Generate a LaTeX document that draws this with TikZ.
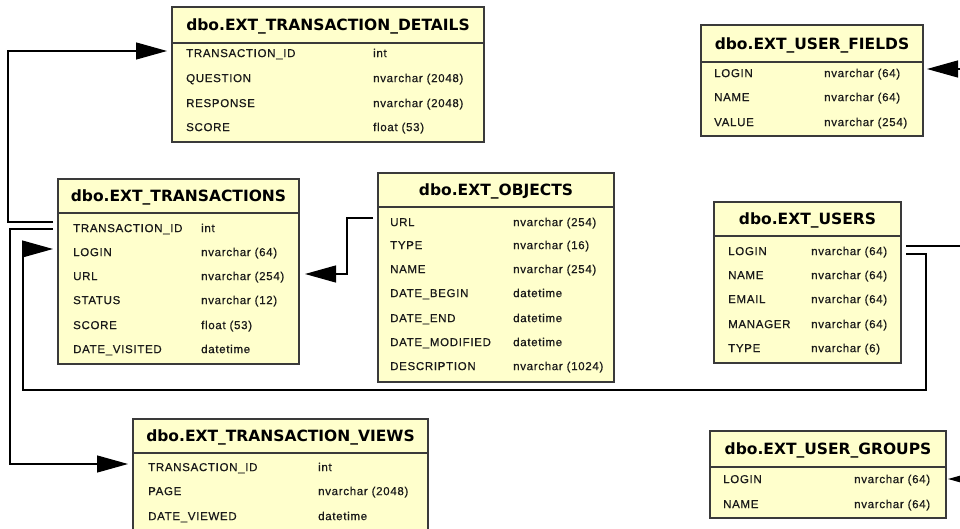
\documentclass[tikz,border=0pt]{standalone}
\usepackage{fontspec}
\setmainfont{Liberation Sans}
\newfontfamily\hdrfont{DejaVu Sans}
\newfontfamily\rowfont{Liberation Sans}[LetterSpace=6,FakeBold=0.6]
\usetikzlibrary{arrows.meta}
\definecolor{tblfill}{HTML}{FFFFCC}
\definecolor{tblline}{HTML}{3A3A3A}
\definecolor{rowtext}{HTML}{1A1A1A}
\tikzset{
  tblbox/.style={draw=tblline, fill=tblfill, line width=1.6pt, anchor=north west,
    inner sep=0pt, outer sep=0pt},
  sepline/.style={draw=tblline, line width=1.1pt},
  hdr/.style={font=\hdrfont\bfseries\fontsize{15.5}{17}\selectfont, text=black,
    inner sep=0pt, anchor=base, yshift=-5.6pt},
  colname/.style={font=\rowfont\fontsize{11.5}{13}\selectfont, text=rowtext,
    anchor=base west, inner sep=0pt, yshift=-4.1pt},
  coltype/.style={colname},
  conn/.style={draw=black, line width=1.2pt},
  fk/.style={conn, -{Triangle[length=31pt,width=17pt]}},
}
\begin{document}
\begin{tikzpicture}[x=1pt,y=-1pt]
\useasboundingbox (0,0) rectangle (960,529);
\clip (0,0) rectangle (960,529);

% ---------- dbo.EXT_TRANSACTION_DETAILS
\node[tblbox, minimum width=312pt, minimum height=135pt] (det) at (172,7) {};
\draw[sepline] (172,43) -- (484,43);
\node[hdr] (det-h) at (328,25) {dbo.EXT\_TRANSACTION\_DETAILS};
\node[colname] (det-n1) at (186,53) {TRANSACTION\_ID};
\node[coltype] (det-t1) at (373,53) {int};
\node[colname] (det-n2) at (186,78) {QUESTION};
\node[coltype] (det-t2) at (373,78) {nvarchar (2048)};
\node[colname] (det-n3) at (186,103) {RESPONSE};
\node[coltype] (det-t3) at (373,103) {nvarchar (2048)};
\node[colname] (det-n4) at (186,127) {SCORE};
\node[coltype] (det-t4) at (373,127) {float (53)};

% ---------- dbo.EXT_USER_FIELDS
\node[tblbox, minimum width=222pt, minimum height=111pt] (uf) at (701,25) {};
\draw[sepline] (701,62) -- (923,62);
\node[hdr] (uf-h) at (812,44) {dbo.EXT\_USER\_FIELDS};
\node[colname] (uf-n1) at (714,73) {LOGIN};
\node[coltype] (uf-t1) at (824,73) {nvarchar (64)};
\node[colname] (uf-n2) at (714,97) {NAME};
\node[coltype] (uf-t2) at (824,97) {nvarchar (64)};
\node[colname] (uf-n3) at (714,122) {VALUE};
\node[coltype] (uf-t3) at (824,122) {nvarchar (254)};

% ---------- dbo.EXT_TRANSACTIONS
\node[tblbox, minimum width=241pt, minimum height=185pt] (tr) at (58,179) {};
\draw[sepline] (58,213) -- (299,213);
\node[hdr] (tr-h) at (178.5,196) {dbo.EXT\_TRANSACTIONS};
\node[colname] (tr-n1) at (73,228) {TRANSACTION\_ID};
\node[coltype] (tr-t1) at (201,228) {int};
\node[colname] (tr-n2) at (73,252) {LOGIN};
\node[coltype] (tr-t2) at (201,252) {nvarchar (64)};
\node[colname] (tr-n3) at (73,276) {URL};
\node[coltype] (tr-t3) at (201,276) {nvarchar (254)};
\node[colname] (tr-n4) at (73,300) {STATUS};
\node[coltype] (tr-t4) at (201,300) {nvarchar (12)};
\node[colname] (tr-n5) at (73,325) {SCORE};
\node[coltype] (tr-t5) at (201,325) {float (53)};
\node[colname] (tr-n6) at (73,349) {DATE\_VISITED};
\node[coltype] (tr-t6) at (201,349) {datetime};

% ---------- dbo.EXT_OBJECTS
\node[tblbox, minimum width=236pt, minimum height=209pt] (obj) at (378,173) {};
\draw[sepline] (378,207) -- (614,207);
\node[hdr] (obj-h) at (496,190) {dbo.EXT\_OBJECTS};
\node[colname] (obj-n1) at (390,222) {URL};
\node[coltype] (obj-t1) at (513,222) {nvarchar (254)};
\node[colname] (obj-n2) at (390,245) {TYPE};
\node[coltype] (obj-t2) at (513,245) {nvarchar (16)};
\node[colname] (obj-n3) at (390,269) {NAME};
\node[coltype] (obj-t3) at (513,269) {nvarchar (254)};
\node[colname] (obj-n4) at (390,293) {DATE\_BEGIN};
\node[coltype] (obj-t4) at (513,293) {datetime};
\node[colname] (obj-n5) at (390,318) {DATE\_END};
\node[coltype] (obj-t5) at (513,318) {datetime};
\node[colname] (obj-n6) at (390,342) {DATE\_MODIFIED};
\node[coltype] (obj-t6) at (513,342) {datetime};
\node[colname] (obj-n7) at (390,366) {DESCRIPTION};
\node[coltype] (obj-t7) at (513,366) {nvarchar (1024)};

% ---------- dbo.EXT_USERS
\node[tblbox, minimum width=187pt, minimum height=161pt] (us) at (714,202) {};
\draw[sepline] (714,236) -- (901,236);
\node[hdr] (us-h) at (807.5,219) {dbo.EXT\_USERS};
\node[colname] (us-n1) at (728,251) {LOGIN};
\node[coltype] (us-t1) at (811,251) {nvarchar (64)};
\node[colname] (us-n2) at (728,275) {NAME};
\node[coltype] (us-t2) at (811,275) {nvarchar (64)};
\node[colname] (us-n3) at (728,299) {EMAIL};
\node[coltype] (us-t3) at (811,299) {nvarchar (64)};
\node[colname] (us-n4) at (728,324) {MANAGER};
\node[coltype] (us-t4) at (811,324) {nvarchar (64)};
\node[colname] (us-n5) at (728,348) {TYPE};
\node[coltype] (us-t5) at (811,348) {nvarchar (6)};

% ---------- dbo.EXT_TRANSACTION_VIEWS
\node[tblbox, minimum width=295pt, minimum height=140pt] (tv) at (133,419) {};
\draw[sepline] (133,453) -- (428,453);
\node[hdr] (tv-h) at (280.5,436) {dbo.EXT\_TRANSACTION\_VIEWS};
\node[colname] (tv-n1) at (148,467) {TRANSACTION\_ID};
\node[coltype] (tv-t1) at (318,467) {int};
\node[colname] (tv-n2) at (148,491) {PAGE};
\node[coltype] (tv-t2) at (318,491) {nvarchar (2048)};
\node[colname] (tv-n3) at (148,516) {DATE\_VIEWED};
\node[coltype] (tv-t3) at (318,516) {datetime};

% ---------- dbo.EXT_USER_GROUPS
\node[tblbox, minimum width=236pt, minimum height=87pt] (ug) at (710,431) {};
\draw[sepline] (710,467) -- (946,467);
\node[hdr] (ug-h) at (828,449) {dbo.EXT\_USER\_GROUPS};
\node[colname] (ug-n1) at (723,479) {LOGIN};
\node[coltype] (ug-t1) at (854,479) {nvarchar (64)};
\node[colname] (ug-n2) at (723,504) {NAME};
\node[coltype] (ug-t2) at (854,504) {nvarchar (64)};

% ---------- connector end points
\coordinate (trid-a) at (53,222);
\coordinate (trid-b) at (53,229);
\coordinate (det-in) at (167,51);
\coordinate (tv-in) at (128,464);
\coordinate (obj-out) at (373,218);
\coordinate (tr-url-in) at (305,274);
\coordinate (us-out-a) at (906,246);
\coordinate (us-out-b) at (906,254);
\coordinate (tr-login-in) at (53,249);
\coordinate (edge-a) at (962,246);
\coordinate (edge-uf) at (962,69);
\coordinate (uf-in) at (927,69);
\coordinate (edge-ug) at (985,479);
\coordinate (ug-in) at (948,479);

% ---------- connectors
\draw[fk] (trid-a) -- (8,222) -- (8,51) -- (det-in);
\draw[fk] (trid-b) -- (10,229) -- (10,464) -- (tv-in);
\draw[fk] (obj-out) -- (347,218) -- (347,274) -- (tr-url-in);
\draw[fk] (us-out-b) -- (926,254) -- (926,390) -- (23,390) -- (23,249) -- (tr-login-in);
\draw[conn] (us-out-a) -- (edge-a);
\draw[fk] (edge-uf) -- (uf-in);
\draw[fk] (edge-ug) -- (ug-in);
\end{tikzpicture}
\end{document}
